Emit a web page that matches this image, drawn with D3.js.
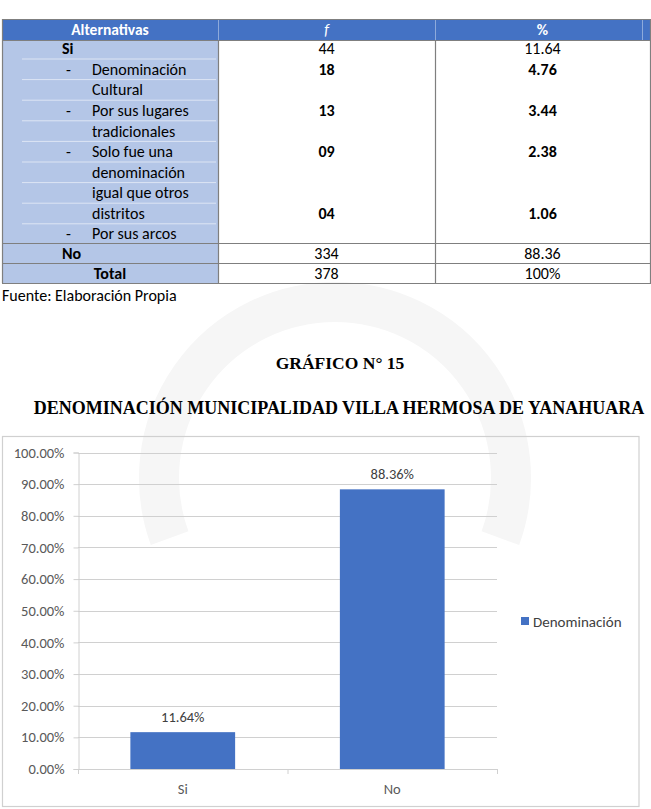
<!DOCTYPE html>
<html lang="es">
<head>
<meta charset="utf-8">
<title>Gráfico N° 15</title>
<script src="https://d3js.org/d3.v7.min.js"></script>
<style>
  body { margin: 0; background: #fff; }
  svg { display: block; }
</style>
</head>
<body>
<div id="page"></div>
<script>
// ---- data ----
const tableHeader = ["Alternativas", "f", "%"];
const siRow = ["Si", "44", "11.64"];
const subItems = [
  ["Denominación", "Cultural"],
  ["Por sus lugares", "tradicionales"],
  ["Solo fue una", "denominación", "igual que otros", "distritos"],
  ["Por sus arcos"]
];
const subF = ["18", "13", "09", "04"];
const subPct = ["4.76", "3.44", "2.38", "1.06"];
const noRow = ["No", "334", "88.36"];
const totalRow = ["Total", "378", "100%"];
const source = "Fuente: Elaboración Propia";

const chartTitle = "GRÁFICO N° 15";
const chartSubtitle = "DENOMINACIÓN MUNICIPALIDAD VILLA HERMOSA DE YANAHUARA";
const categories = ["Si", "No"];
const percents = [11.64, 88.36];
const seriesName = "Denominación";
const yTicks = [0, 10, 20, 30, 40, 50, 60, 70, 80, 90, 100];

const W = 651, H = 809;
const sans = "Carlito, Calibri, Lato, sans-serif";
const serif = "'Liberation Serif', 'Times New Roman', serif";

const svg = d3.select("#page").append("svg")
    .attr("width", W).attr("height", H);

// faint watermark band behind the page
(function () {
  const cx = 335, cy = 478, r = 176;
  const a0 = 160 * Math.PI / 180, a1 = 20 * Math.PI / 180;
  svg.append("path")
    .attr("d", `M${cx + r * Math.cos(a0)},${cy + r * Math.sin(a0)} A${r},${r} 0 1 1 ${cx + r * Math.cos(a1)},${cy + r * Math.sin(a1)}`)
    .attr("fill", "none").attr("stroke", "#f6f6f6").attr("stroke-width", 40);
})();

// ---- table ----
const colX = [2, 218, 435, 650];
const headTop = 19, headBot = 40;
const lineStep = 20.6, firstLine = 48.5;
const lineY = d3.range(10).map(i => firstLine + i * lineStep);
const valueLine = [1, 3, 5, 8];
const siBot = 243, noBot = 263, totBot = 283;

const tbl = svg.append("g").attr("class", "table");

tbl.append("rect").attr("x", colX[0]).attr("y", headTop)
  .attr("width", colX[3] - colX[0]).attr("height", headBot - headTop)
  .attr("fill", "#4472C4");
tbl.append("rect").attr("x", colX[0]).attr("y", headBot)
  .attr("width", colX[1] - colX[0]).attr("height", totBot - headBot)
  .attr("fill", "#B4C6E7");

// faint white lines inside the first column
tbl.selectAll("line.sub").data(lineY.slice(0, 9)).join("line")
  .attr("x1", colX[0] + 20).attr("x2", colX[1] - 2)
  .attr("y1", d => d + 10.5).attr("y2", d => d + 10.5)
  .attr("stroke", "#ffffff").attr("stroke-opacity", 0.55).attr("stroke-width", 1);

// header separators
[colX[1], colX[2], 642].forEach(x => {
  tbl.append("line").attr("x1", x + 0.5).attr("x2", x + 0.5).attr("y1", headTop).attr("y2", headBot)
    .attr("stroke", "#8EAADB").attr("stroke-width", 1);
});

// borders
const bc = "#7f7f7f";
[headTop, headBot, siBot, noBot, totBot].forEach(y => {
  tbl.append("line").attr("x1", colX[0]).attr("x2", colX[3] + 1)
    .attr("y1", y + 0.5).attr("y2", y + 0.5).attr("stroke", bc).attr("stroke-width", 1.2);
});
[colX[1], colX[2]].forEach(x => {
  tbl.append("line").attr("x1", x + 0.5).attr("x2", x + 0.5).attr("y1", headBot).attr("y2", totBot)
    .attr("stroke", bc).attr("stroke-width", 1.2);
});
[colX[0], colX[3]].forEach(x => {
  tbl.append("line").attr("x1", x + 0.5).attr("x2", x + 0.5).attr("y1", headTop).attr("y2", totBot)
    .attr("stroke", bc).attr("stroke-width", 1.2);
});

const colMid = [110, (colX[1] + colX[2]) / 2, (colX[2] + colX[3]) / 2];
function txt(x, y, s, opts) {
  opts = opts || {};
  return tbl.append("text").attr("x", x).attr("y", y).attr("dy", "0.35em")
    .attr("text-anchor", opts.anchor || "middle")
    .style("font-family", sans).style("font-size", (opts.size || 16) + "px")
    .style("font-weight", opts.bold ? "bold" : "normal")
    .style("font-style", opts.italic ? "italic" : "normal")
    .attr("fill", opts.fill || "#000").text(s);
}

// header
txt(colMid[0], 29.5, tableHeader[0], { bold: true, fill: "#fff", size: 15.5 });
txt(colMid[1], 29.5, tableHeader[1], { italic: true, fill: "#fff", size: 15.5 });
txt(colMid[2], 29.5, tableHeader[2], { bold: true, fill: "#fff", size: 15.5 });

// Si block
txt(62, lineY[0], siRow[0], { bold: true, anchor: "start" });
txt(colMid[1], lineY[0], siRow[1]);
txt(colMid[2], lineY[0], siRow[2]);
let li = 1;
const ySi = lineY.slice();
ySi[8] = 213; ySi[9] = 233;
subItems.forEach((lines, k) => {
  lines.forEach((l, j) => {
    if (j === 0) txt(66, ySi[li], "-", { anchor: "start" });
    txt(92, ySi[li], l, { anchor: "start" });
    li++;
  });
  txt(colMid[1], ySi[valueLine[k]], subF[k], { bold: true });
  txt(colMid[2], ySi[valueLine[k]], subPct[k], { bold: true });
});

// No / Total
txt(62, 253, noRow[0], { bold: true, anchor: "start" });
txt(colMid[1], 253, noRow[1]);
txt(colMid[2], 253, noRow[2]);
txt(110, 273, totalRow[0], { bold: true });
txt(colMid[1], 273, totalRow[1]);
txt(colMid[2], 273, totalRow[2]);

txt(2, 295, source, { anchor: "start" });

// ---- titles ----
svg.append("text").attr("x", 340).attr("y", 363).attr("dy", "0.35em")
  .attr("text-anchor", "middle")
  .style("font-family", serif).style("font-weight", "bold").style("font-size", "17.5px")
  .text(chartTitle);
svg.append("text").attr("x", 339).attr("y", 408).attr("dy", "0.35em")
  .attr("text-anchor", "middle")
  .style("font-family", serif).style("font-weight", "bold").style("font-size", "18px")
  .text(chartSubtitle);

// ---- chart ----
const chart = svg.append("g").attr("class", "chart");
chart.append("rect").attr("x", 2.5).attr("y", 436.5).attr("width", 636.5).attr("height", 370)
  .attr("fill", "none").attr("stroke", "#d0d0d0").attr("stroke-width", 1.2);

const plotL = 78, plotR = 497, plotT = 452.5, plotB = 769;
const x = d3.scaleBand().domain(categories).range([plotL, plotR])
  .paddingInner(0.5).paddingOuter(0.25);
const y = d3.scaleLinear().domain([0, 100]).range([plotB, plotT]);
const gridC = "#d0d0d0";
const fs = "14.5px";

chart.selectAll("line.grid").data(yTicks).join("line")
  .attr("class", "grid")
  .attr("x1", plotL).attr("x2", plotR)
  .attr("y1", d => Math.round(y(d)) + 0.5).attr("y2", d => Math.round(y(d)) + 0.5)
  .attr("stroke", gridC).attr("stroke-width", 1);

const yAxis = chart.append("g").attr("transform", `translate(${plotL + 0.5},0)`)
  .call(d3.axisLeft(y).tickValues(yTicks).tickFormat(d => d.toFixed(2) + "%")
    .tickSize(5).tickPadding(9));
yAxis.select(".domain").attr("stroke", gridC);
yAxis.selectAll(".tick line").attr("stroke", gridC);
yAxis.selectAll(".tick text").style("font-family", sans).style("font-size", fs)
  .attr("fill", "#595959");

// x axis with boundary ticks
chart.append("line").attr("x1", plotL).attr("x2", plotR)
  .attr("y1", plotB + 0.5).attr("y2", plotB + 0.5).attr("stroke", gridC);
const bounds = [plotL].concat(categories.map(c => x(c) + x.bandwidth() + x.step() * x.paddingInner() / 2));
bounds[bounds.length - 1] = plotR;
chart.selectAll("line.xt").data(bounds).join("line")
  .attr("x1", d => d + 0.5).attr("x2", d => d + 0.5)
  .attr("y1", plotB).attr("y2", plotB + 5).attr("stroke", gridC);
chart.selectAll("text.xl").data(categories).join("text")
  .attr("x", d => x(d) + x.bandwidth() / 2).attr("y", 789).attr("dy", "0.35em")
  .attr("text-anchor", "middle")
  .style("font-family", sans).style("font-size", fs).attr("fill", "#595959")
  .text(d => d);

// bars
chart.selectAll("rect.bar").data(percents).join("rect")
  .attr("class", "bar")
  .attr("x", (d, i) => x(categories[i])).attr("width", x.bandwidth())
  .attr("y", d => y(d)).attr("height", d => plotB - y(d))
  .attr("fill", "#4472C4");

chart.selectAll("text.val").data(percents).join("text")
  .attr("x", (d, i) => x(categories[i]) + x.bandwidth() / 2)
  .attr("y", d => y(d) - 10)
  .attr("text-anchor", "middle")
  .style("font-family", sans).style("font-size", fs).attr("fill", "#404040")
  .text(d => d.toFixed(2) + "%");

// legend
chart.append("rect").attr("x", 521).attr("y", 617).attr("width", 8).attr("height", 8)
  .attr("fill", "#4472C4");
chart.append("text").attr("x", 533).attr("y", 622).attr("dy", "0.35em")
  .style("font-family", sans).style("font-size", "15px").attr("fill", "#404040")
  .text(seriesName);
</script>
</body>
</html>
